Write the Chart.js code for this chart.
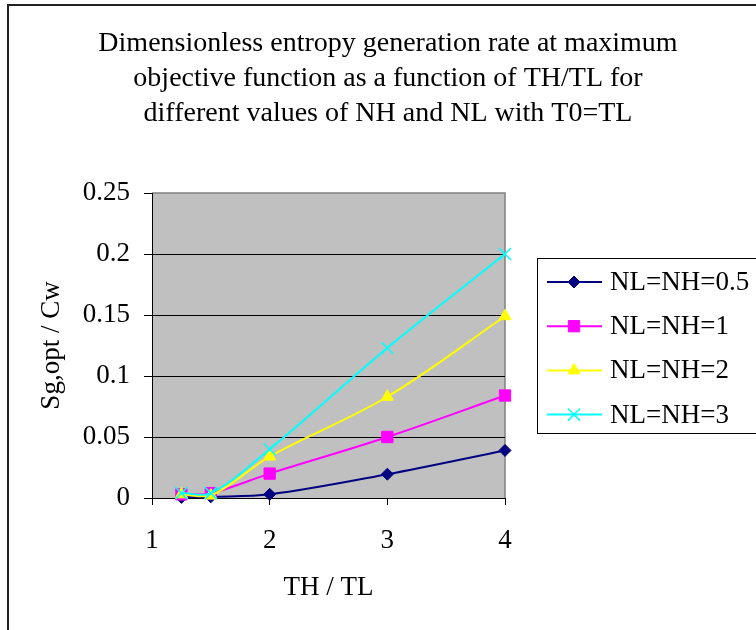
<!DOCTYPE html>
<html>
<head>
<meta charset="utf-8">
<script src="https://cdn.jsdelivr.net/npm/chart.js"></script>
<style>
  html, body { margin: 0; padding: 0; background: #fff; }
  #chart { display: block; }
</style>
</head>
<body>
<canvas id="chart" width="756" height="630"></canvas>
<script>
// valeurs
const thTl = [1.25, 1.5, 2, 3, 4];
const nh05 = [0.0005, 0.001, 0.003, 0.0195, 0.039];
const nh1 = [0.003, 0.004, 0.020, 0.050, 0.084];
const nh2 = [0.003, 0.002, 0.034, 0.083, 0.149];
const nh3 = [0.004, 0.004, 0.040, 0.123, 0.200];

const seriesNames = ['NL=NH=0.5', 'NL=NH=1', 'NL=NH=2', 'NL=NH=3'];
const yTickLabels = ['0', '0.05', '0.1', '0.15', '0.2', '0.25'];
const xTickLabels = ['1', '2', '3', '4'];
const titleLines = [
    'Dimensionless entropy generation rate at maximum',
    'objective function as a function of TH/TL for',
    'different values of NH and NL with T0=TL'
];

const serif = "'Liberation Serif', 'Times New Roman', serif";

function toPoints(values) {
    return values.map((v, i) => ({ x: thTl[i], y: v }));
}

function makeSeries(label, values, color, style, radius, order) {
    return {
        label: label,
        data: toPoints(values),
        borderColor: color,
        backgroundColor: color,
        pointBackgroundColor: color,
        pointBorderColor: color,
        pointStyle: style,
        pointRadius: radius,
        pointBorderWidth: style === 'crossRot' ? 1.5 : 1,
        borderWidth: 2,
        tension: 0.35,
        clip: false,
        order: order
    };
}

// fond gris, cadre extérieur et titre
const decorPlugin = {
    id: 'decor',
    beforeDraw(chart) {
        const { ctx, chartArea } = chart;
        ctx.save();
        ctx.fillStyle = '#c0c0c0';
        ctx.fillRect(chartArea.left, chartArea.top, chartArea.right - chartArea.left, chartArea.bottom - chartArea.top);
        ctx.strokeStyle = '#808080';
        ctx.lineWidth = 1.5;
        ctx.beginPath();
        ctx.moveTo(chartArea.left, chartArea.top);
        ctx.lineTo(chartArea.right, chartArea.top);
        ctx.lineTo(chartArea.right, chartArea.bottom);
        ctx.stroke();

        ctx.strokeStyle = '#222';
        ctx.lineWidth = 2;
        ctx.beginPath();
        ctx.moveTo(8, 630);
        ctx.lineTo(8, 5);
        ctx.lineTo(760, 5);
        ctx.stroke();

        ctx.fillStyle = '#000';
        ctx.font = '28px ' + serif;
        ctx.textAlign = 'center';
        ctx.textBaseline = 'alphabetic';
        titleLines.forEach((line, i) => {
            ctx.fillText(line, 388, 51 + i * 35);
        });
        ctx.restore();
    }
};

// légende encadrée à droite
const boxLegendPlugin = {
    id: 'boxLegend',
    afterDraw(chart) {
        const ctx = chart.ctx;
        const left = 537.5, top = 258.5, bottom = 433.5;
        ctx.save();
        ctx.fillStyle = '#fff';
        ctx.fillRect(left, top, 240, bottom - top);
        ctx.strokeStyle = '#000';
        ctx.lineWidth = 1;
        ctx.strokeRect(left, top, 240, bottom - top);

        chart.data.datasets.forEach((ds, i) => {
            const y = 282 + i * 44.2;
            ctx.strokeStyle = ds.borderColor;
            ctx.lineWidth = 2;
            ctx.beginPath();
            ctx.moveTo(547, y);
            ctx.lineTo(602, y);
            ctx.stroke();
            ctx.fillStyle = ds.pointBackgroundColor;
            ctx.strokeStyle = ds.pointBorderColor;
            ctx.lineWidth = ds.pointBorderWidth;
            Chart.helpers.drawPoint(ctx, {
                pointStyle: ds.pointStyle,
                radius: ds.pointRadius,
                rotation: 0,
                borderWidth: ds.pointBorderWidth
            }, 574, y);
            ctx.fillStyle = '#000';
            ctx.font = '27px ' + serif;
            ctx.textAlign = 'left';
            ctx.textBaseline = 'middle';
            ctx.fillText(ds.label, 610, y + 1);
        });
        ctx.restore();
    }
};

const ctx = document.getElementById('chart').getContext('2d');
const chart = new Chart(ctx, {
    type: 'line',
    data: {
        datasets: [
            makeSeries(seriesNames[0], nh05, '#000080', 'rectRot', 6, 3),
            makeSeries(seriesNames[1], nh1, '#ff00ff', 'rect', 8, 2),
            makeSeries(seriesNames[2], nh2, '#ffff00', 'triangle', 7, 1),
            makeSeries(seriesNames[3], nh3, '#00ffff', 'crossRot', 8.5, 0)
        ]
    },
    options: {
        responsive: false,
        animation: false,
        layout: { padding: { top: 193, right: 251, left: 0, bottom: 0 } },
        plugins: {
            legend: { display: false },
            tooltip: { enabled: false }
        },
        scales: {
            x: {
                type: 'linear',
                min: 1,
                max: 4,
                afterFit(scale) { scale.height = 132; },
                ticks: {
                    stepSize: 1,
                    color: '#000',
                    padding: 20,
                    font: { family: serif, size: 27 },
                    callback: (v, i) => xTickLabels[i]
                },
                grid: {
                    drawOnChartArea: false,
                    tickLength: 7,
                    color: '#000',
                    tickColor: '#000'
                },
                border: { color: '#000', width: 1 },
                title: {
                    display: true,
                    text: 'TH / TL',
                    color: '#000',
                    font: { family: serif, size: 27 },
                    padding: { top: 0, bottom: 26 }
                }
            },
            y: {
                min: 0,
                max: 0.25,
                afterFit(scale) { scale.width = 152; },
                ticks: {
                    stepSize: 0.05,
                    color: '#000',
                    padding: 14,
                    font: { family: serif, size: 27 },
                    callback: (v, i) => yTickLabels[i]
                },
                grid: {
                    color: (c) => (c.tick && c.tick.value >= 0.25) ? 'rgba(0,0,0,0)' : '#000',
                    tickColor: '#000',
                    tickLength: 8,
                    lineWidth: 1
                },
                border: { color: '#000', width: 1 },
                title: {
                    display: true,
                    text: 'Sg,opt / Cw',
                    color: '#000',
                    font: { family: serif, size: 27 },
                    padding: { top: 36, bottom: 0 }
                }
            }
        }
    },
    plugins: [decorPlugin, boxLegendPlugin]
});
</script>
</body>
</html>
